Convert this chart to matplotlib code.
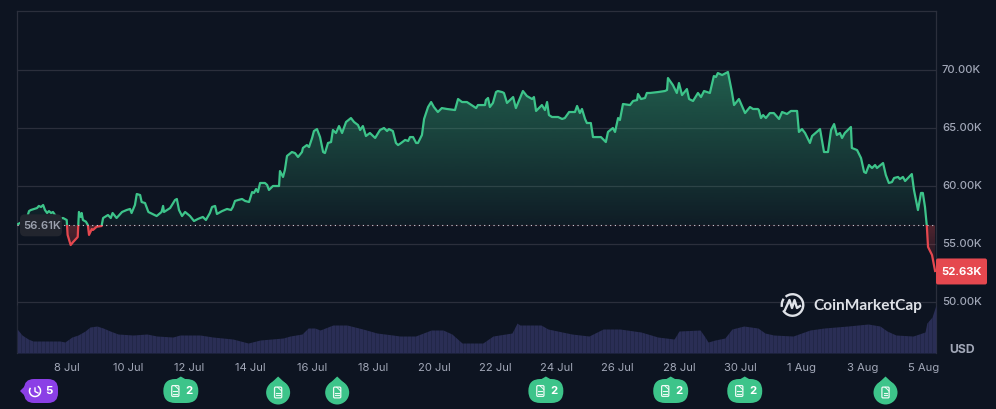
import numpy as np
import matplotlib
matplotlib.use("Agg")
import matplotlib.pyplot as plt
from matplotlib.patches import Rectangle, Polygon, FancyBboxPatch, Circle, Arc
from matplotlib.colors import to_rgb

plt.rcParams['font.family'] = ['Inter', 'DejaVu Sans']

# days counted from 1 Jul = 1, so 1 Aug = 32
price_days = [6.40, 6.53, 6.69, 6.76, 6.82, 6.92, 7.02, 7.08, 7.15, 7.22, 7.28, 7.35, 7.41, 7.48, 7.54, 7.61, 7.71, 7.87, 7.99, 8.02,
              8.12, 8.20, 8.35, 8.39, 8.45, 8.48, 8.52, 8.62, 8.68, 8.72, 8.81, 8.85, 8.97, 9.13, 9.18, 9.34, 9.43, 9.49, 9.62, 9.80,
              9.95, 10.06, 10.11, 10.22, 10.28, 10.39, 10.44, 10.55, 10.66, 10.93, 11.09, 11.14, 11.17, 11.37, 11.53, 11.59, 11.66, 11.76, 11.86, 12.02,
              12.15, 12.28, 12.44, 12.54, 12.67, 12.74, 12.84, 12.90, 13.07, 13.23, 13.36, 13.42, 13.49, 13.59, 13.72, 13.82, 13.95, 14.05, 14.11, 14.18,
              14.24, 14.31, 14.47, 14.54, 14.60, 14.73, 14.93, 14.96, 15.06, 15.12, 15.19, 15.35, 15.45, 15.55, 15.68, 15.71, 15.84, 15.91, 16.01, 16.07,
              16.17, 16.27, 16.37, 16.43, 16.53, 16.63, 16.69, 16.79, 16.89, 16.99, 17.12, 17.28, 17.38, 17.51, 17.58, 17.67, 17.77, 17.90, 18.07, 18.23,
              18.36, 18.46, 18.52, 18.65, 18.75, 18.82, 18.92, 19.05, 19.15, 19.21, 19.31, 19.41, 19.47, 19.60, 19.67, 19.80, 19.90, 19.99, 20.12, 20.25,
              20.42, 20.68, 20.78, 20.91, 21.07, 21.37, 21.43, 21.66, 21.69, 21.76, 21.82, 21.92, 22.02, 22.08, 22.22, 22.28, 22.38, 22.58, 22.67, 22.90,
              23.03, 23.20, 23.26, 23.33, 23.52, 23.62, 23.69, 23.75, 23.85, 24.05, 24.18, 24.27, 24.41, 24.60, 24.67, 24.76, 24.83, 24.93, 24.99, 25.12,
              25.19, 25.32, 25.45, 25.61, 25.68, 25.84, 25.91, 26.01, 26.07, 26.17, 26.40, 26.50, 26.63, 26.66, 26.76, 26.89, 26.95, 27.05, 27.31, 27.54,
              27.61, 27.64, 27.80, 27.93, 28.00, 28.10, 28.26, 28.33, 28.46, 28.62, 28.72, 28.82, 29.01, 29.14, 29.21, 29.27, 29.41, 29.60, 29.73, 29.80,
              29.96, 30.16, 30.32, 30.42, 30.58, 30.61, 30.68, 30.75, 30.84, 30.97, 31.10, 31.27, 31.37, 31.53, 31.66, 31.86, 31.92, 32.02, 32.12, 32.28,
              32.35, 32.61, 32.74, 32.87, 32.97, 33.07, 33.16, 33.26, 33.33, 33.42, 33.62, 33.65, 33.82, 33.95, 34.05, 34.11, 34.21, 34.31, 34.41, 34.47,
              34.67, 34.76, 34.86, 34.96, 35.03, 35.16, 35.22, 35.32, 35.39, 35.61, 35.68, 35.81, 35.91, 35.97, 36.04, 36.10, 36.14, 36.27, 36.37]
prices = [56.72, 56.90, 57.24, 57.84, 57.93, 58.02, 58.10, 58.28, 58.19, 58.36, 57.93, 57.67, 57.84, 57.67, 57.76, 57.50, 57.16, 57.24, 57.07, 55.78,
          54.91, 55.17, 55.60, 57.76, 57.33, 57.67, 57.07, 56.92, 56.64, 55.78, 56.29, 56.21, 56.49, 56.55, 57.24, 57.50, 57.24, 57.67, 57.24, 57.76,
          57.93, 58.02, 57.67, 58.36, 59.31, 59.22, 58.62, 58.53, 57.76, 57.41, 57.76, 58.28, 57.76, 58.10, 58.79, 58.88, 57.93, 57.41, 57.76, 57.41,
          56.98, 57.16, 57.33, 57.07, 57.67, 58.19, 58.28, 57.59, 57.84, 58.02, 57.93, 58.19, 58.71, 58.79, 58.88, 58.71, 58.62, 59.48, 59.40, 59.74,
          59.48, 60.26, 60.26, 60.09, 59.66, 60.00, 60.00, 61.29, 60.78, 61.38, 62.59, 62.93, 62.84, 62.50, 62.93, 63.28, 63.53, 63.36, 64.14, 64.74,
          64.91, 64.22, 62.93, 62.84, 63.71, 63.79, 64.83, 64.57, 65.17, 64.57, 65.52, 65.86, 65.52, 65.26, 64.83, 65.17, 64.31, 64.57, 64.14, 64.83,
          65.00, 64.74, 64.91, 64.74, 63.71, 63.53, 63.71, 63.97, 63.88, 64.22, 64.22, 63.71, 63.71, 64.40, 65.78, 66.81, 67.24, 66.81, 66.38, 66.72,
          66.64, 66.55, 67.50, 67.24, 67.24, 66.72, 66.98, 66.98, 67.41, 67.59, 66.81, 67.16, 68.10, 68.19, 68.10, 68.02, 67.16, 67.67, 66.72, 68.19,
          67.76, 67.50, 67.67, 66.47, 66.98, 66.55, 67.24, 66.12, 65.95, 65.95, 65.78, 65.86, 66.38, 66.38, 66.90, 66.29, 66.64, 65.78, 65.43, 65.43,
          64.22, 64.22, 64.22, 63.79, 64.66, 65.00, 64.66, 65.86, 65.69, 67.07, 66.98, 67.33, 67.41, 67.93, 67.50, 67.59, 68.02, 68.02, 68.10, 68.19,
          68.28, 69.31, 68.71, 68.02, 68.88, 67.84, 68.36, 67.50, 67.33, 68.02, 67.67, 68.19, 68.02, 69.48, 69.40, 69.74, 69.57, 69.83, 68.10, 66.98,
          67.50, 66.29, 66.81, 66.64, 66.64, 66.55, 65.86, 66.12, 65.86, 66.29, 66.29, 65.78, 66.38, 66.21, 66.47, 66.47, 64.66, 64.91, 64.57, 63.71,
          64.31, 64.91, 62.93, 62.93, 64.83, 65.34, 64.40, 64.57, 64.14, 64.57, 65.09, 63.28, 63.10, 62.41, 61.21, 61.12, 61.81, 61.55, 61.81, 61.55,
          61.98, 60.95, 60.26, 60.34, 60.69, 60.78, 60.60, 60.78, 60.43, 61.03, 59.66, 57.93, 59.40, 59.40, 58.19, 56.55, 54.74, 54.05, 52.67]

volume_days = [6.37, 6.53, 6.73, 6.89, 7.77, 7.93, 8.16, 8.36, 8.59, 8.75, 8.98, 9.18, 9.41, 9.67, 10.16, 10.61, 10.94, 11.46, 11.69, 12.35,
               12.77, 13.42, 13.92, 14.31, 15.06, 15.29, 15.68, 15.88, 16.10, 16.27, 16.69, 17.15, 17.67, 18.13, 18.65, 18.88, 19.39, 19.90, 20.29, 20.58,
               20.91, 21.59, 21.92, 22.54, 22.71, 22.80, 23.49, 23.72, 24.50, 25.06, 25.52, 26.07, 26.76, 27.31, 27.84, 28.00, 28.69, 28.85, 28.95, 29.18,
               29.50, 29.73, 30.12, 30.58, 30.81, 31.10, 31.73, 32.28, 32.74, 33.52, 34.18, 34.57, 34.80, 35.09, 35.65, 36.04, 36.10, 36.27, 36.40]
volumes = [24, 18, 14, 12, 12, 11, 16, 18, 22, 26, 27, 25, 22, 19, 18, 19, 17, 16, 18, 18,
           16, 14, 10, 13, 15, 17, 19, 25, 25, 23, 28, 28, 24, 20, 18, 17, 17, 23, 23, 19,
           10, 10, 17, 20, 30, 28, 28, 24, 19, 17, 24, 24, 21, 16, 14, 22, 23, 16, 11, 13,
           15, 24, 27, 25, 20, 18, 17, 23, 25, 27, 29, 27, 22, 18, 17, 21, 30, 36, 48]

x_tick_days = [8, 10, 12, 14, 16, 18, 20, 22, 24, 26, 28, 30, 32, 34, 36]
x_tick_labels = ['8 Jul', '10 Jul', '12 Jul', '14 Jul', '16 Jul', '18 Jul', '20 Jul', '22 Jul', '24 Jul', '26 Jul',
                 '28 Jul', '30 Jul', '1 Aug', '3 Aug', '5 Aug']
y_ticks = [50, 55, 60, 65, 70]
y_tick_labels = ['50.00K', '55.00K', '60.00K', '65.00K', '70.00K']

base_price = 56.61
last_price = 52.63

# news bubbles under the axis: day, count (1 shows no number)
news_days = [11.72, 14.90, 16.83, 23.65, 27.73, 30.15, 34.75]
news_counts = [2, 1, 1, 2, 2, 2, 1]

BG = '#0d1421'
GRID = '#2b2f3c'
GREEN = '#3dc48a'
RED = '#e5484f'
TEXT = '#a1a7b7'
VOL = '#2a2e55'

W, H = 996, 409
L, R, T, B = 17, 936, 11, 353
XMIN, XMAX = 6.366, 36.40
YMIN, YMAX = 45.60, 75.09


def add_gradient(ax, xlim, y0, y1, color, a0, a1, clip):
    # vertical gradient, alpha a0 at y0 and a1 at y1
    rgba = np.zeros((256, 1, 4))
    rgba[:, :, :3] = to_rgb(color)
    rgba[:, 0, 3] = np.linspace(a0, a1, 256)
    im = ax.imshow(rgba, extent=[xlim[0], xlim[1], y0, y1], origin='lower', aspect='auto', zorder=2)
    im.set_clip_path(clip)


def draw_doc(ov, cx, cy):
    body = FancyBboxPatch((cx - 3.6, cy - 5.4), 7.2, 10.8, boxstyle='round,pad=0,rounding_size=1.2',
                          fc='none', ec='white', lw=0.9, alpha=0.9, zorder=7)
    ov.add_patch(body)
    for dy in (0.2, 2.6):
        ov.plot([cx - 1.9, cx + 1.9], [cy + dy, cy + dy], color='white', lw=0.8, alpha=0.9, zorder=7)
    ov.plot([cx - 0.4, cx + 3.4], [cy - 5.2, cy - 1.6], color='white', lw=0.7, alpha=0.9, zorder=7)


def draw_bubble(ov, cx, count):
    if count > 1:
        ov.add_patch(FancyBboxPatch((cx - 17.5, 379), 35, 24, boxstyle='round,pad=0,rounding_size=12',
                                    fc=GREEN, ec='none', zorder=6))
        ov.add_patch(Polygon([(cx - 6, 380), (cx, 376.5), (cx + 6, 380)], fc=GREEN, ec='none', zorder=6))
        draw_doc(ov, cx - 5.5, 391)
        ov.text(cx + 8.5, 391, str(count), color='white', fontsize=8.2, fontweight='bold',
                ha='center', va='center', zorder=7)
    else:
        ov.add_patch(Circle((cx, 392.5), 12, fc=GREEN, ec='none', zorder=6))
        ov.add_patch(Polygon([(cx - 8, 384), (cx, 376.5), (cx + 8, 384)], fc=GREEN, ec='none', zorder=6))
        draw_doc(ov, cx, 392.5)


def draw_history_tag(ov):
    ov.add_patch(FancyBboxPatch((24, 379), 34, 24, boxstyle='round,pad=0,rounding_size=10',
                                fc='#8b3fe6', ec='none', zorder=6))
    ov.add_patch(Polygon([(28, 383), (20, 391), (28, 399)], fc='#8b3fe6', ec='none', zorder=6))
    ov.add_patch(Arc((35, 391), 11, 11, theta1=-60, theta2=215, color='white', lw=1.1, zorder=7))
    ov.plot([35, 35, 38], [388, 391.5, 393], color='white', lw=1.0, zorder=7)
    ov.text(49, 391, '5', color='white', fontsize=8.2, fontweight='bold', ha='center', va='center', zorder=7)


def draw_logo(ov):
    ov.add_patch(Arc((792.5, 305), 21.5, 21.5, theta1=-130, theta2=150, color='#dfe2e8', lw=1.7, zorder=5))
    ov.add_patch(Arc((792.5, 305), 21.5, 21.5, theta1=170, theta2=215, color='#dfe2e8', lw=1.7, zorder=5))
    ov.plot([785, 789.5, 792, 794.5, 797, 800], [310, 300, 308, 300, 308, 306],
            color='#dfe2e8', lw=1.7, zorder=5, solid_joinstyle='round')
    ov.text(813, 306, 'CoinMarketCap', color='#dfe2e8', fontsize=11.1, fontweight='bold',
            family=['Lato', 'DejaVu Sans'], ha='left', va='center', zorder=5)


def main():
    fig = plt.figure(figsize=(W / 100, H / 100), dpi=100, facecolor=BG)
    rect = [L / W, 1 - B / H, (R - L) / W, (B - T) / H]
    ax = fig.add_axes(rect, facecolor=BG)

    ax.set_yticks(y_ticks)
    ax.grid(axis='y', color=GRID, lw=0.9)
    ax.set_axisbelow(True)
    ax.tick_params(left=False, bottom=False, labelleft=False, labelbottom=False)
    for side in ('left', 'right', 'top'):
        ax.spines[side].set_color(GRID)
        ax.spines[side].set_linewidth(0.9)
    ax.spines['bottom'].set_visible(False)

    # area between the line and the opening price
    area = Polygon(list(zip(price_days, prices)) + [(price_days[-1], base_price), (price_days[0], base_price)],
                   closed=True, transform=ax.transData, fc='none', ec='none')
    add_gradient(ax, (XMIN, XMAX), base_price, max(prices), GREEN, 0.05, 0.42, area)
    add_gradient(ax, (XMIN, XMAX), min(prices), base_price, RED, 0.02, 0.32, area)

    # same line twice, clipped either side of the opening price
    up, = ax.plot(price_days, prices, color=GREEN, lw=1.6, zorder=3, solid_joinstyle='round')
    down, = ax.plot(price_days, prices, color=RED, lw=1.6, zorder=3, solid_joinstyle='round')
    up.set_clip_path(Rectangle((XMIN, base_price), XMAX - XMIN, YMAX - base_price, transform=ax.transData))
    down.set_clip_path(Rectangle((XMIN, YMIN), XMAX - XMIN, base_price - YMIN, transform=ax.transData))

    ax.axhline(base_price, color='#cfd3dc', lw=0.8, ls=(0, (1, 3.2)), zorder=3)
    ax.set_xlim(XMIN, XMAX)
    ax.set_ylim(YMIN, YMAX)

    # volume sits on its own scale along the bottom
    ax_vol = fig.add_axes(rect, facecolor='none')
    ax_vol.fill_between(volume_days, volumes, 0, color=VOL, lw=0)
    ax_vol.vlines(np.arange(XMIN, XMAX, 0.13), 0, max(volumes), color=BG, lw=0.5, alpha=0.35)
    ax_vol.set_xlim(XMIN, XMAX)
    ax_vol.set_ylim(0, B - T)
    ax_vol.axis('off')

    # overlay in pixel coordinates for labels and badges
    ov = fig.add_axes([0, 0, 1, 1], facecolor='none')
    ov.set_xlim(0, W)
    ov.set_ylim(H, 0)
    ov.axis('off')

    px_day = (R - L) / (XMAX - XMIN)
    for d, label in zip(x_tick_days, x_tick_labels):
        ov.text(L + (d - XMIN) * px_day, 368, label, color=TEXT, fontsize=8.1, ha='center', va='center')
    px_price = (B - T) / (YMAX - YMIN)
    for v, label in zip(y_ticks, y_tick_labels):
        ov.text(942, T + (YMAX - v) * px_price, label, color=TEXT, fontsize=8.1, fontweight='medium',
                ha='left', va='center')
    ov.text(962, 350, 'USD', color=TEXT, fontsize=8.8, fontweight='bold', ha='center', va='center')

    base_y = T + (YMAX - base_price) * px_price
    ov.add_patch(FancyBboxPatch((20, base_y - 11), 42, 22, boxstyle='round,pad=0,rounding_size=5',
                                fc='#22252e', ec='none', zorder=5))
    ov.text(42.5, base_y + 1, '56.61K', color='#9ba0ad', fontsize=8.1, fontweight='semibold',
            ha='center', va='center', zorder=6)

    last_y = T + (YMAX - last_price) * px_price
    ov.add_patch(FancyBboxPatch((936, last_y - 13), 51, 26, boxstyle='round,pad=0,rounding_size=2',
                                fc=RED, ec='none', zorder=5))
    ov.text(961.5, last_y + 0.5, '52.63K', color='white', fontsize=8.1, fontweight='bold',
            ha='center', va='center', zorder=6)

    draw_logo(ov)
    draw_history_tag(ov)
    for d, n in zip(news_days, news_counts):
        draw_bubble(ov, L + (d - XMIN) * px_day, n)
    ov.plot([17, 936], [408.5, 408.5], color='#1c2230', lw=0.8)

    fig.savefig('out.png', dpi=100, facecolor=BG)


if __name__ == "__main__":
    main()
